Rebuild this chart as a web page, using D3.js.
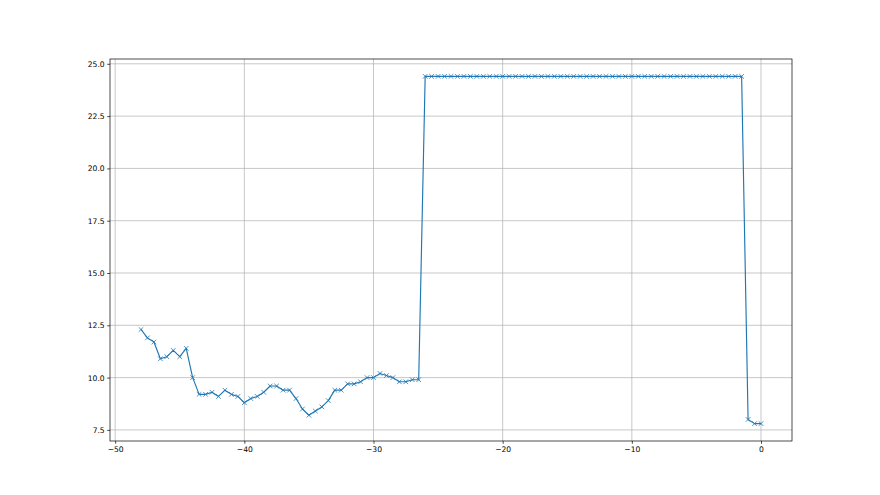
<!DOCTYPE html>
<html>
<head>
<meta charset="utf-8">
<script src="https://cdn.jsdelivr.net/npm/d3@7"></script>
<style>
  body { margin: 0; background: #fff; }
  svg { display: block; }
  .tick text { font-family: "DejaVu Sans", sans-serif; font-size: 7.6px; fill: #000; }
</style>
</head>
<body>
<svg id="chart" width="880" height="495"></svg>
<script>
// x positions (step of 0.5)
const xs = [
  -48, -47.5, -47, -46.5, -46, -45.5, -45, -44.5, -44, -43.5,
  -43, -42.5, -42, -41.5, -41, -40.5, -40, -39.5, -39, -38.5,
  -38, -37.5, -37, -36.5, -36, -35.5, -35, -34.5, -34, -33.5,
  -33, -32.5, -32, -31.5, -31, -30.5, -30, -29.5, -29, -28.5,
  -28, -27.5, -27, -26.5, -26, -25.5, -25, -24.5, -24, -23.5,
  -23, -22.5, -22, -21.5, -21, -20.5, -20, -19.5, -19, -18.5,
  -18, -17.5, -17, -16.5, -16, -15.5, -15, -14.5, -14, -13.5,
  -13, -12.5, -12, -11.5, -11, -10.5, -10, -9.5, -9, -8.5,
  -8, -7.5, -7, -6.5, -6, -5.5, -5, -4.5, -4, -3.5,
  -3, -2.5, -2, -1.5, -1, -0.5, 0
];
const ys = [
  12.3, 11.9, 11.7, 10.9, 11.0, 11.3, 11.0, 11.4, 10.0, 9.2,
  9.2, 9.3, 9.1, 9.4, 9.2, 9.1, 8.8, 9.0, 9.1, 9.3,
  9.6, 9.6, 9.4, 9.4, 9.0, 8.5, 8.2, 8.4, 8.6, 8.9,
  9.4, 9.4, 9.7, 9.7, 9.8, 10.0, 10.0, 10.2, 10.1, 10.0,
  9.8, 9.8, 9.9, 9.9, 24.4, 24.4, 24.4, 24.4, 24.4, 24.4,
  24.4, 24.4, 24.4, 24.4, 24.4, 24.4, 24.4, 24.4, 24.4, 24.4,
  24.4, 24.4, 24.4, 24.4, 24.4, 24.4, 24.4, 24.4, 24.4, 24.4,
  24.4, 24.4, 24.4, 24.4, 24.4, 24.4, 24.4, 24.4, 24.4, 24.4,
  24.4, 24.4, 24.4, 24.4, 24.4, 24.4, 24.4, 24.4, 24.4, 24.4,
  24.4, 24.4, 24.4, 24.4, 8.0, 7.8, 7.8
];
const xTicks = [-50, -40, -30, -20, -10, 0];
const yTicks = [7.5, 10.0, 12.5, 15.0, 17.5, 20.0, 22.5, 25.0];

const data = xs.map((x, i) => ({ x: x, y: ys[i] }));

const svg = d3.select("#chart");
const margin = { left: 110, right: 88, top: 59, bottom: 54 };
const width = 880 - margin.left - margin.right;
const height = 495 - margin.top - margin.bottom;

// matplotlib-like 5% padding
const xMin = d3.min(xs), xMax = d3.max(xs);
const yMin = d3.min(ys), yMax = d3.max(ys);
const xPad = (xMax - xMin) * 0.05, yPad = (yMax - yMin) * 0.05;

const x = d3.scaleLinear().domain([xMin - xPad, xMax + xPad]).range([0, width]);
const y = d3.scaleLinear().domain([yMin - yPad, yMax + yPad]).range([height, 0]);

const g = svg.append("g").attr("transform", `translate(${margin.left},${margin.top})`);

// grid
g.append("g")
  .selectAll("line")
  .data(xTicks)
  .enter()
  .append("line")
  .attr("x1", d => x(d)).attr("x2", d => x(d))
  .attr("y1", 0).attr("y2", height)
  .attr("stroke", "#b0b0b0").attr("stroke-width", 0.7);

g.append("g")
  .selectAll("line")
  .data(yTicks)
  .enter()
  .append("line")
  .attr("x1", 0).attr("x2", width)
  .attr("y1", d => y(d)).attr("y2", d => y(d))
  .attr("stroke", "#b0b0b0").attr("stroke-width", 0.7);

const minus = s => s.replace("-", "\u2212");

const xAxis = g.append("g")
  .attr("transform", `translate(0,${height})`)
  .call(d3.axisBottom(x).tickValues(xTicks).tickSizeOuter(0).tickSize(2.8).tickPadding(2.5)
    .tickFormat(d => minus(d3.format("d")(d))));

const yAxis = g.append("g")
  .call(d3.axisLeft(y).tickValues(yTicks).tickSizeOuter(0).tickSize(2.8).tickPadding(2.5)
    .tickFormat(d => d3.format(".1f")(d)));

[xAxis, yAxis].forEach(a => {
  a.select(".domain").remove();
  a.selectAll(".tick line").attr("stroke", "#000").attr("stroke-width", 0.7);
});

// line
const line = d3.line().x(d => x(d.x)).y(d => y(d.y));
g.append("path")
  .datum(data)
  .attr("fill", "none")
  .attr("stroke", "#1f77b4")
  .attr("stroke-width", 1.15)
  .attr("stroke-linejoin", "round")
  .attr("d", line);

// x markers
const m = 2.3;
g.append("g")
  .selectAll("path")
  .data(data)
  .enter()
  .append("path")
  .attr("transform", d => `translate(${x(d.x)},${y(d.y)})`)
  .attr("d", `M${-m},${-m}L${m},${m}M${-m},${m}L${m},${-m}`)
  .attr("stroke", "#1f77b4")
  .attr("stroke-width", 0.8);

// frame
g.append("rect")
  .attr("x", 0).attr("y", 0)
  .attr("width", width).attr("height", height)
  .attr("fill", "none")
  .attr("stroke", "#000")
  .attr("stroke-width", 0.7);
</script>
</body>
</html>
